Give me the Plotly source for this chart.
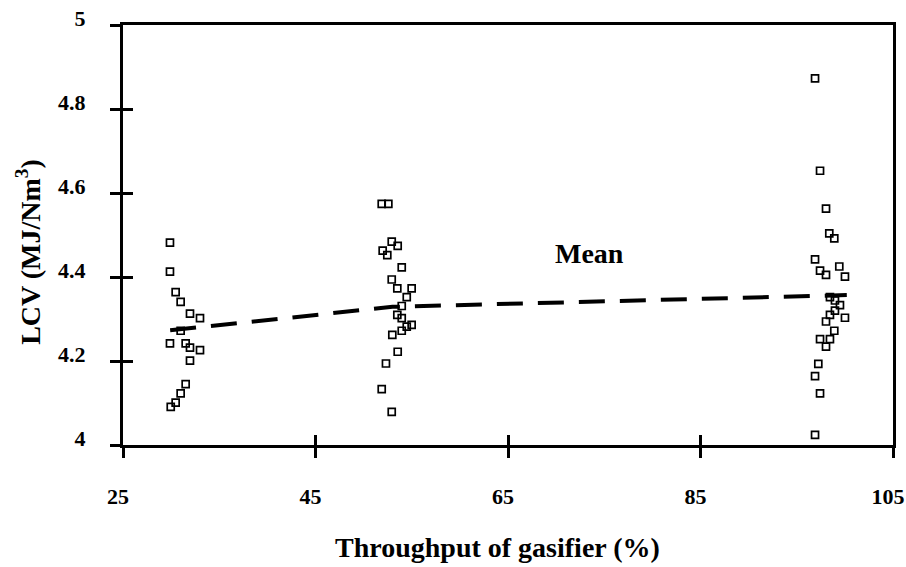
import plotly.graph_objects as go

# Measured LCV of the producer gas at three gasifier throughputs
x_30 = [29.88, 29.88, 30.47, 30.99, 31.96, 33.0, 30.99, 29.88, 31.51, 31.96, 33.0, 31.96, 31.51, 30.99, 30.47, 29.96]
y_30 = [4.482, 4.413, 4.364, 4.341, 4.313, 4.302, 4.272, 4.242, 4.242, 4.232, 4.226, 4.201, 4.145, 4.123, 4.101, 4.091]

x_53 = [51.88, 52.57, 52.92, 53.54, 51.98, 52.46, 53.96, 52.92, 53.50, 54.99, 54.48, 53.96,
        53.50, 53.96, 54.99, 54.48, 53.96, 52.98, 53.54, 52.32, 51.88, 52.92]
y_53 = [4.574, 4.574, 4.484, 4.474, 4.463, 4.452, 4.423, 4.394, 4.373, 4.373, 4.352, 4.331,
        4.310, 4.302, 4.286, 4.282, 4.272, 4.262, 4.222, 4.194, 4.133, 4.079]

x_100 = [96.90, 97.42, 98.04, 98.38, 98.90, 96.90, 97.42, 98.04, 99.42, 100.01, 98.45, 98.97, 99.49,
         98.97, 98.45, 100.01, 98.04, 98.90, 97.42, 98.45, 98.04, 97.24, 96.90, 97.42, 96.90]
y_100 = [4.873, 4.653, 4.563, 4.504, 4.492, 4.442, 4.415, 4.405, 4.425, 4.401, 4.352, 4.344, 4.333,
         4.320, 4.310, 4.303, 4.294, 4.272, 4.252, 4.252, 4.234, 4.193, 4.164, 4.123, 4.024]

# Mean LCV at each throughput
mean_x = [29.9, 53.0, 100.2]
mean_y = [4.273, 4.329, 4.357]

x_ticks = [25, 45, 65, 85, 105]
y_ticks = [4, 4.2, 4.4, 4.6, 4.8, 5]
y_tick_text = ["4", "4.2", "4.4", "4.6", "4.8", "5"]

FONT = "Liberation Serif, Times New Roman, serif"

fig = go.Figure()

marker = dict(symbol="square-open", size=7, color="black", line=dict(width=1.7, color="black"))
for xs, ys in [(x_30, y_30), (x_53, y_53), (x_100, y_100)]:
    fig.add_trace(go.Scatter(x=xs, y=ys, mode="markers", marker=marker,
                             showlegend=False, hoverinfo="x+y"))

fig.add_trace(go.Scatter(x=mean_x, y=mean_y, mode="lines",
                         line=dict(color="black", width=4, dash="26px,15px"),
                         showlegend=False))

# invisible trace carrying the overlay axes that draw the inner halves of the ticks
fig.add_trace(go.Scatter(x=[65], y=[4.5], xaxis="x2", yaxis="y2", mode="markers",
                         marker=dict(opacity=0), showlegend=False, hoverinfo="skip"))

tick_font = dict(family=FONT, size=22, color="black", weight="bold")
title_font = dict(family=FONT, size=28, color="black", weight="bold")

fig.add_annotation(x=73.5, y=4.455, text="Mean", showarrow=False, font=title_font)

# axis titles
fig.add_annotation(xref="paper", yref="paper", x=0.487, y=-0.245, text="Throughput of gasifier (%)",
                   showarrow=False, xanchor="center", yanchor="middle", font=title_font)
fig.add_annotation(xref="paper", yref="paper", x=-0.122, y=0.46, text="LCV (MJ/Nm<sup>3</sup>)",
                   showarrow=False, textangle=-90, xanchor="center", yanchor="middle",
                   font=title_font)

fig.update_layout(
    width=906, height=567,
    margin=dict(l=123, r=13, t=25, b=122),
    paper_bgcolor="white", plot_bgcolor="white",
    xaxis=dict(range=[25, 105], tickvals=x_ticks, ticks="outside", ticklen=10, tickwidth=3,
               tickcolor="black", showline=True, linewidth=3, linecolor="black", mirror=True,
               showgrid=False, zeroline=False, tickfont=tick_font, ticklabelstandoff=20,
               ticklabelshift=-5, ticklabeloverflow="allow", automargin=False),
    yaxis=dict(range=[4, 5], tickvals=y_ticks, ticktext=y_tick_text, ticks="outside", ticklen=10,
               tickwidth=3, tickcolor="black", showline=True, linewidth=3, linecolor="black",
               mirror=True, showgrid=False, zeroline=False, tickfont=tick_font,
               ticklabelstandoff=20, ticklabelshift=-7, ticklabeloverflow="allow",
               automargin=False),
    xaxis2=dict(range=[25, 105], overlaying="x", anchor="y", side="bottom", tickvals=x_ticks,
                ticks="inside", ticklen=10, tickwidth=3, tickcolor="black", showticklabels=False,
                showline=False, showgrid=False, zeroline=False, automargin=False),
    yaxis2=dict(range=[4, 5], overlaying="y", anchor="x", side="left", tickvals=y_ticks,
                ticks="inside", ticklen=10, tickwidth=3, tickcolor="black", showticklabels=False,
                showline=False, showgrid=False, zeroline=False, automargin=False),
)

fig.write_html("out.html")
